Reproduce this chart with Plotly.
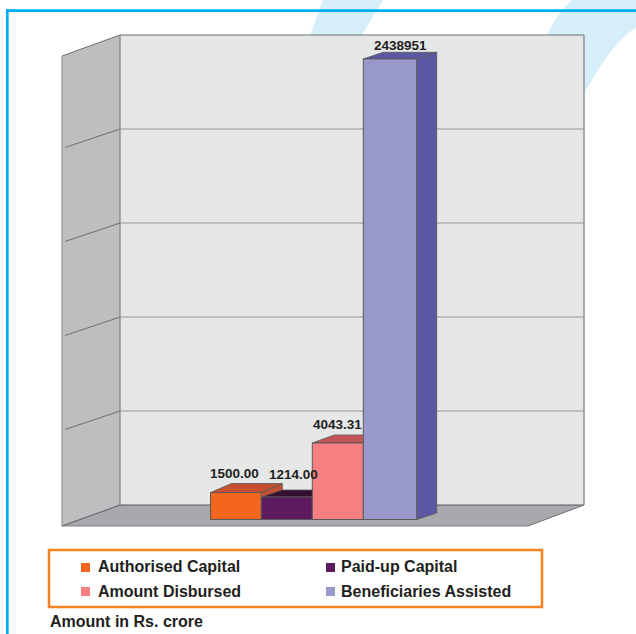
import plotly.graph_objects as go

categories = ["Authorised Capital", "Paid-up Capital", "Amount Disbursed", "Beneficiaries Assisted"]
# drawn height of each bar in grid intervals (the big bar is off any common scale)
bar_heights = [0.287, 0.239, 0.814, 4.9]
value_labels = ["1500.00", "1214.00", "4043.31", "2438951"]

front_colors = ["#F4661F", "#5E1A5E", "#F77F82", "#9898CB"]
depth_colors = ["#C54F2E", "#33102F", "#C45556", "#5C57A3"]
edge_color = "#58595B"
text_color = "#231F20"
font_name = "Liberation Sans"

W, H = 636, 634
BASE_PX = 519.5  # front baseline of the bars
UNIT_PX = 94  # one grid interval
bar_edges = [210.5, 261.3, 312.3, 363.3, 416.7]
depth_dx = [21, 21, 22, 20]
depth_dy = [9, 7, 8, 6.6]
label_dx = [24, 32, 25, 37.5]  # label centre from the bar's left edge
label_lift = [11, 14, 10, 4.6]  # label bottom above the bar's front top
grid_levels = [1, 2, 3, 4]


def yu(px):
    return (BASE_PX - px) / UNIT_PX


def wall_y(level):
    return yu(505 - level * UNIT_PX)


def poly(points, fill, line=None, width=1):
    path = "M " + " L ".join(f"{x},{yu(y)}" for x, y in points) + " Z"
    return dict(type="path", path=path, xref="x", yref="y", fillcolor=fill,
                line=dict(color=line or "rgba(0,0,0,0)", width=width), layer="below")


def seg(x0, y0, x1, y1, color, width=1):
    return dict(type="line", x0=x0, y0=yu(y0), x1=x1, y1=yu(y1), xref="x", yref="y",
                line=dict(color=color, width=width), layer="below")


shapes = [
    # background swooshes
    poly([(323, 0), (383, 0), (362, 35), (310, 35)], "#D6EEFA"),
    dict(type="path", xref="x", yref="y", fillcolor="#D6EEFA", layer="below", line=dict(width=0),
         path=f"M 572,{yu(0)} C 562,{yu(9)} 553,{yu(22)} 547,{yu(35)} L 584,{yu(35)} L 584,{yu(94)} "
              f"C 600,{yu(66)} 617,{yu(38)} 636,{yu(28)} L 636,{yu(0)} Z"),
    # page frame
    seg(6, 10.7, W, 10.7, "#00AEEF", 2.7),
    seg(7.3, 9.3, 7.3, H, "#00AEEF", 2.7),
    # walls and floor
    poly([(62, 56), (120, 35), (120, 505), (62, 526)], "#BCBEC0"),
    poly([(120, 35), (584, 35), (584, 505), (120, 505)], "#E6E8E8"),
    poly([(62, 526), (120, 505), (584, 505), (528, 526)], "#A7A9AC"),
    seg(62, 56, 120, 35, "#6D6E71"),
    seg(120, 35, 584, 35, "#6D6E71", 1.2),
    seg(120, 35, 120, 505, "#808285", 1.2),
    seg(62, 56, 62, 526, "#939598", 1.2),
    seg(584, 35, 584, 505, "#939598", 1.5),
    seg(120, 505, 584, 505, "#58595B", 1),
    seg(62, 526, 120, 505, "#58595B", 1),
    seg(62, 526, 528, 526, "#808285", 1.2),
    seg(528, 526, 584, 505, "#6D6E71", 1),
    # legend box
    poly([(49, 550), (542, 550), (542, 607), (49, 607)], "rgba(0,0,0,0)", "#F58220", 2.5),
]

for level in grid_levels:
    gy = wall_y(level)
    shapes.append(dict(type="line", x0=120, x1=585, y0=gy, y1=gy, xref="x", yref="y",
                       line=dict(color="#939598", width=1.2), layer="below"))
    shapes.append(dict(type="line", x0=65, x1=120, y0=gy - 18.5 / UNIT_PX, y1=gy, xref="x", yref="y",
                       line=dict(color="#6D6E71", width=1), layer="below"))

fig = go.Figure()

# depth faces first, left to right, so the purple top cuts the orange side off on the diagonal
for i in range(len(categories)):
    left, right = bar_edges[i], bar_edges[i + 1]
    h = bar_heights[i]
    dx, dy = depth_dx[i], depth_dy[i] / UNIT_PX
    fig.add_trace(go.Scatter(
        x=[right, right + dx, right + dx, right, right],
        y=[0, dy, h + dy, h, 0],
        mode="lines", fill="toself", fillcolor=depth_colors[i],
        line=dict(color=edge_color, width=0.8), showlegend=False, hoverinfo="skip",
    ))
    fig.add_trace(go.Scatter(
        x=[left, left + dx, right + dx, right, left],
        y=[h, h + dy, h + dy, h, h],
        mode="lines", fill="toself", fillcolor=depth_colors[i],
        line=dict(color=edge_color, width=0.8), showlegend=False, hoverinfo="skip",
    ))

# front faces on an overlaying axis pair, so they cover the depth faces
fig.add_trace(go.Bar(
    x=[(bar_edges[i] + bar_edges[i + 1]) / 2 for i in range(len(categories))],
    y=bar_heights,
    width=[bar_edges[i + 1] - bar_edges[i] for i in range(len(categories))],
    marker=dict(color=front_colors, line=dict(color=edge_color, width=1)),
    customdata=categories,
    hovertemplate="%{customdata}<extra></extra>",
    xaxis="x2", yaxis="y2", showlegend=False,
))

annotations = []
for i, label in enumerate(value_labels):
    annotations.append(dict(
        x=bar_edges[i] + label_dx[i],
        y=bar_heights[i] + label_lift[i] / UNIT_PX,
        xref="x", yref="y", text=label, showarrow=False,
        xanchor="center", yanchor="bottom", yshift=-1,
        font=dict(family=font_name, size=13.5, color=text_color, weight="bold"),
    ))

# hand-placed legend, two columns by two rows
legend_x = [85.5, 330.5]
legend_text_x = [96, 339]
legend_y = [567.5, 591.5]
legend_text_y = [566.5, 591.5]
swatch_x, swatch_y = [], []
for i, name in enumerate(categories):
    col, row = i % 2, i // 2
    swatch_x.append(legend_x[col])
    swatch_y.append(yu(legend_y[row]))
    annotations.append(dict(
        x=legend_text_x[col], y=yu(legend_text_y[row]), xref="x", yref="y", text=name,
        showarrow=False, xanchor="left", yanchor="middle",
        font=dict(family=font_name, size=16, color=text_color, weight="bold"),
    ))

fig.add_trace(go.Scatter(
    x=swatch_x, y=swatch_y, mode="markers",
    marker=dict(symbol="square", size=9, color=front_colors),
    showlegend=False, hoverinfo="skip", xaxis="x2", yaxis="y2",
))

annotations.append(dict(
    x=48, y=yu(621), xref="x", yref="y", text="Amount in Rs. crore",
    showarrow=False, xanchor="left", yanchor="middle",
    font=dict(family=font_name, size=16, color=text_color, weight="bold"),
))

axis_x = dict(range=[0, W], visible=False, fixedrange=True)
axis_y = dict(range=[yu(H), yu(0)], visible=False, fixedrange=True)
fig.update_layout(
    width=W, height=H,
    margin=dict(l=0, r=0, t=0, b=0),
    paper_bgcolor="white", plot_bgcolor="rgba(0,0,0,0)",
    xaxis=axis_x, yaxis=axis_y,
    xaxis2=dict(axis_x, overlaying="x"), yaxis2=dict(axis_y, overlaying="y"),
    shapes=shapes, annotations=annotations,
    showlegend=False,
)

# the page's default body margin would push the chart 8px in
fig.write_html("out.html", config={"displayModeBar": False},
               post_script="document.body.style.margin='0';document.body.style.overflow='hidden';")
